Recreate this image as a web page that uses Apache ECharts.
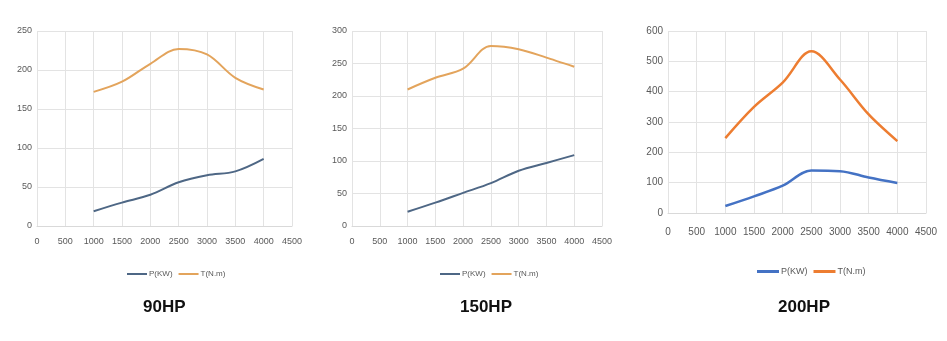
<!DOCTYPE html>
<html><head><meta charset="utf-8">
<script src="https://cdn.jsdelivr.net/npm/echarts@6/dist/echarts.min.js"></script>
<style>html,body{margin:0;padding:0;background:#fff}#c{width:947px;height:341px}</style>
</head><body><div id="c"></div>
<script>
const rpm = [1000, 1500, 2000, 2500, 3000, 3500, 4000];
const titles = ['90HP', '150HP', '200HP'];
const legendNames = ['P(KW)', 'T(N.m)'];
const p90 = [19, 30, 40, 56, 65, 70, 86];
const t90 = [172, 185, 208, 227, 220, 190, 175];
const p150 = [22, 36, 51, 66, 85, 97, 109];
const t150 = [210, 228, 242, 277, 272, 259, 245];
const p200 = [23, 55, 90, 140, 138, 117, 99];
const t200 = [247, 350, 430, 533, 440, 325, 237];
const yMax = [250, 300, 600];
const yInt = [50, 50, 100];

const panels = [
  {left:37, width:255, top:31, height:195, legX:122, legY:265, titleX:138, P:p90, T:t90, pc:'#4e6785', tc:'#e3a45c', fs:9, xm:11, lw:2},
  {left:352, width:250, top:31, height:195, legX:435, legY:265, titleX:455, P:p150, T:t150, pc:'#4e6785', tc:'#e3a45c', fs:9, xm:11, lw:2},
  {left:668, width:258, top:31, height:182, legX:752, legY:262, titleX:773, P:p200, T:t200, pc:'#4472c4', tc:'#ed7d31', fs:10, xm:14, lw:2.5}
];
const zip = (xs, ys) => xs.map((x, i) => [x, ys[i]]);
const option = {
  animation:false,
  textStyle:{fontFamily:'Liberation Sans'},
  title: panels.map((p,i)=>({text:titles[i], left:p.titleX, top:294,
    textStyle:{fontSize:17, fontWeight:'bold', color:'#111', fontFamily:'Liberation Sans'}})),
  grid: panels.map(p=>({left:p.left, width:p.width, top:p.top, height:p.height, containLabel:false})),
  legend: panels.map((p,i)=>({data:legendNames.map(n=>n+(i?'\u200b'.repeat(i):'')), left:p.legX, top:p.legY,
    itemWidth:i==2?22:20, itemHeight:i==2?3:2, itemGap:6, icon:'rect',
    textStyle:{fontSize:p.fs-1, color:'#595959', padding:[0,0,0,-3]}})),
  xAxis: panels.map((p,i)=>({type:'value', gridIndex:i, min:0, max:4500, interval:500,
    axisLine:{show:true, lineStyle:{color:'#d9d9d9'}}, axisTick:{show:false},
    axisLabel:{color:'#595959', fontSize:p.fs, margin:p.xm, showMaxLabel:true, showMinLabel:true, formatter:v=>String(v)},
    splitLine:{show:true, lineStyle:{color:'#e3e3e3'}}})),
  yAxis: panels.map((p,i)=>({type:'value', gridIndex:i, min:0, max:yMax[i], interval:yInt[i],
    axisLine:{show:false}, axisTick:{show:false},
    axisLabel:{color:'#595959', fontSize:p.fs, margin:5, formatter:v=>String(v)},
    splitLine:{show:true, lineStyle:{color:'#e3e3e3'}}})),
  series: []
};
panels.forEach((p,i)=>{
  const sfx = i?'\u200b'.repeat(i):'';
  option.series.push({name:legendNames[0]+sfx, type:'line', xAxisIndex:i, yAxisIndex:i, data:zip(rpm,p.P),
    smooth:0.35, showSymbol:false, lineStyle:{width:p.lw, color:p.pc}, itemStyle:{color:p.pc}});
  option.series.push({name:legendNames[1]+sfx, type:'line', xAxisIndex:i, yAxisIndex:i, data:zip(rpm,p.T),
    smooth:0.35, showSymbol:false, lineStyle:{width:p.lw, color:p.tc}, itemStyle:{color:p.tc}});
});
const chart = echarts.init(document.getElementById('c'), null, {renderer:'canvas'});
chart.setOption(option);
</script></body></html>
